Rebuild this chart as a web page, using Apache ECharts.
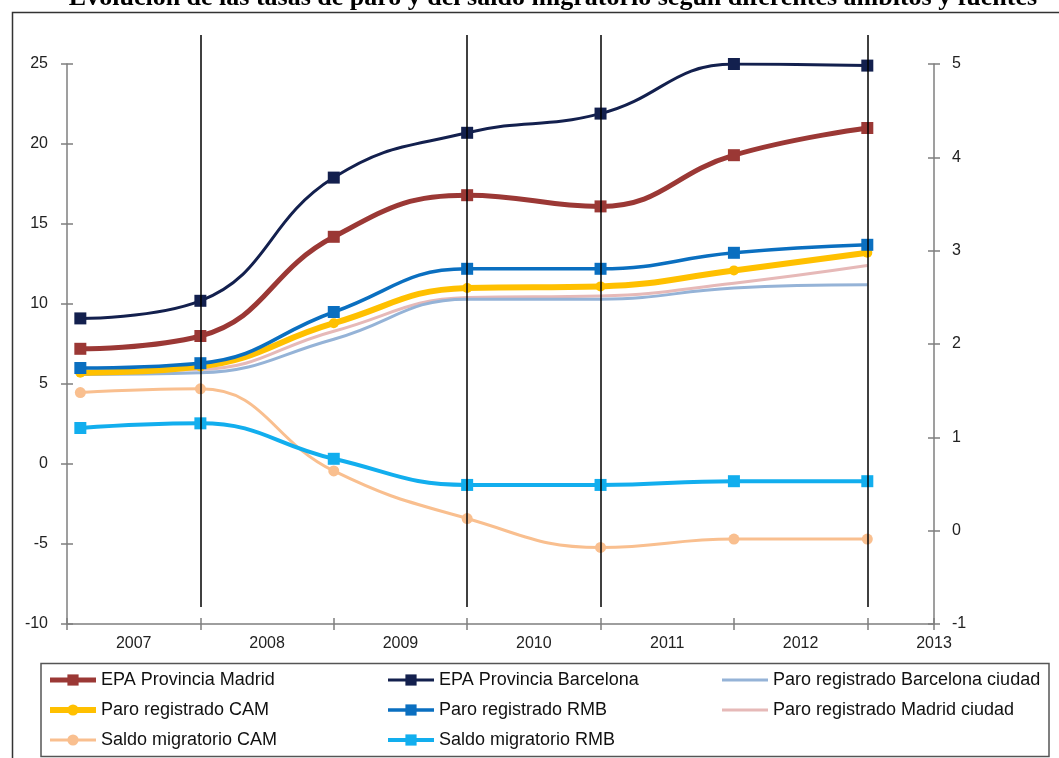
<!DOCTYPE html>
<html>
<head>
<meta charset="utf-8">
<title>Tasas de paro y saldo migratorio</title>
<script src="https://cdn.jsdelivr.net/npm/echarts@6/dist/echarts.min.js"></script>
<style>
  html, body { margin: 0; padding: 0; background: #fff; }
  #chart { width: 1059px; height: 758px; }
</style>
</head>
<body>
<div id="chart"></div>
<script>
// Fecha de cada observación (año decimal)
const periodos = [2007.1, 2008, 2009, 2010, 2011, 2012, 2013];

// Tasas de paro (%), eje izquierdo
const epaMadrid        = [7.2, 8.0, 14.2, 16.8, 16.1, 19.3, 21.0];
const epaBarcelona     = [9.1, 10.2, 17.9, 20.7, 21.9, 25.0, 24.9];
const paroBcnCiudad    = [5.6, 5.7, 7.8, 10.3, 10.3, 11.0, 11.2];
const paroCAM          = [5.7, 6.1, 8.8, 11.0, 11.1, 12.1, 13.2];
const paroRMB          = [6.0, 6.3, 9.5, 12.2, 12.2, 13.2, 13.7];
const paroMadCiudad    = [5.8, 5.9, 8.3, 10.4, 10.5, 11.3, 12.4];

// Saldo migratorio (%), eje derecho
const saldoCAM         = [1.48, 1.52, 0.64, 0.13, -0.18, -0.09, -0.09];
const saldoRMB         = [1.10, 1.15, 0.77, 0.49, 0.49, 0.53, 0.53];

// Años marcados con línea vertical
const hitos = [2008, 2010, 2011, 2013];

const nombres = [
  'EPA Provincia Madrid', 'EPA Provincia Barcelona', 'Paro registrado Barcelona ciudad',
  'Paro registrado CAM', 'Paro registrado RMB', 'Paro registrado Madrid ciudad',
  'Saldo migratorio CAM', 'Saldo migratorio RMB'
];

const pares = vals => periodos.map((x, i) => [x, vals[i]]);

const fuente = 'Liberation Sans, Arial, sans-serif';
const gris = '#7f7f7f';
// Icono de leyenda de sólo línea, para las series sin marcadores
const iconoLinea = 'path://M0 0H46V3H0Z';

function serie(name, vals, color, width, symbol, size, yIdx) {
  return {
    name: name,
    type: 'line',
    xAxisIndex: 0,
    yAxisIndex: yIdx,
    data: pares(vals),
    smooth: 0.45,
    symbol: symbol,
    symbolSize: size,
    showSymbol: symbol !== 'none',
    lineStyle: { color: color, width: width },
    itemStyle: { color: color },
    emphasis: { disabled: true },
    animation: false
  };
}

const chart = echarts.init(document.getElementById('chart'), null, { renderer: 'canvas' });

const ejeX = {
  type: 'value', min: 2007, max: 2013.5, interval: 1, gridIndex: 0, position: 'bottom',
  splitLine: { show: false }
};
const ejeYIzq = { type: 'value', min: -10, max: 25, interval: 5, gridIndex: 0, position: 'left', splitLine: { show: false } };
const ejeYDer = { type: 'value', min: -1, max: 5, interval: 1, gridIndex: 0, position: 'right', splitLine: { show: false } };

const leyendaBase = {
  orient: 'vertical',
  top: 671,
  padding: 0,
  itemWidth: 46,
  itemHeight: 14,
  itemGap: 12,
  selectedMode: false,
  lineStyle: { width: 'inherit' },
  textStyle: { fontFamily: fuente, fontSize: 18, color: '#111', lineHeight: 18 }
};

chart.setOption({
  backgroundColor: '#fff',
  animation: false,
  graphic: [
    {
      type: 'rect', silent: true,
      shape: { x: 12.5, y: 12.5, width: 1100, height: 800 },
      style: { fill: 'none', stroke: '#333', lineWidth: 1.5 }
    },
    {
      type: 'rect', silent: true,
      shape: { x: 41, y: 663.5, width: 1008, height: 93 },
      style: { fill: 'none', stroke: '#555', lineWidth: 1.5 }
    },
    {
      type: 'text', silent: true,
      style: {
        text: 'Evolución de las tasas de paro y del saldo migratorio según diferentes ámbitos y fuentes',
        x: 553, y: 11,
        align: 'center', verticalAlign: 'bottom',
        font: 'bold 26px "Liberation Serif", "Times New Roman", serif',
        fill: '#000'
      }
    }
  ],
  grid: [
    { left: 67, right: 125, top: 64, bottom: 134 },
    { left: 67, right: 125, top: 35, bottom: 151 }
  ],
  xAxis: [
    Object.assign({}, ejeX, {
      axisLine: { onZero: false, lineStyle: { color: gris, width: 1.5 } },
      axisTick: { show: true, inside: false, length: 6, lineStyle: { color: gris, width: 1.5 } },
      axisLabel: { show: false }
    }),
    Object.assign({}, ejeX, {
      axisLine: { show: false, onZero: false },
      axisTick: { show: true, inside: true, length: 6, lineStyle: { color: gris, width: 1.5 } },
      axisLabel: { show: false }
    }),
    Object.assign({}, ejeX, {
      interval: 0.5,
      axisLine: { show: false, onZero: false },
      axisTick: { show: false },
      axisLabel: {
        show: true, margin: 12, showMinLabel: true, showMaxLabel: true,
        fontFamily: fuente, fontSize: 16, color: '#222',
        formatter: v => (Math.abs(v % 1 - 0.5) < 1e-6 ? String(Math.floor(v)) : '')
      }
    }),
    { type: 'value', min: 2007, max: 2013.5, gridIndex: 1, show: false }
  ],
  yAxis: [
    Object.assign({}, ejeYIzq, {
      axisLine: { show: true, onZero: false, lineStyle: { color: gris, width: 1.5 } },
      axisTick: { show: true, inside: false, length: 6, lineStyle: { color: gris, width: 1.5 } },
      axisLabel: { margin: 19, fontFamily: fuente, fontSize: 16, color: '#222' }
    }),
    Object.assign({}, ejeYIzq, {
      axisLine: { show: false, onZero: false },
      axisTick: { show: true, inside: true, length: 6, lineStyle: { color: gris, width: 1.5 } },
      axisLabel: { show: false }
    }),
    Object.assign({}, ejeYDer, {
      axisLine: { show: true, onZero: false, lineStyle: { color: gris, width: 1.5 } },
      axisTick: { show: true, inside: false, length: 6, lineStyle: { color: gris, width: 1.5 } },
      axisLabel: { margin: 18, fontFamily: fuente, fontSize: 16, color: '#222' }
    }),
    Object.assign({}, ejeYDer, {
      axisLine: { show: false, onZero: false },
      axisTick: { show: true, inside: true, length: 6, lineStyle: { color: gris, width: 1.5 } },
      axisLabel: { show: false }
    }),
    { type: 'value', min: 0, max: 1, gridIndex: 1, show: false }
  ],
  legend: [
    Object.assign({}, leyendaBase, { left: 47, data: [nombres[0], nombres[3], nombres[6]] }),
    Object.assign({}, leyendaBase, { left: 386, data: [nombres[1], nombres[4], nombres[7]] }),
    Object.assign({}, leyendaBase, {
      left: 722,
      data: [{ name: nombres[2], icon: iconoLinea }, { name: nombres[5], icon: iconoLinea }]
    })
  ],
  series: [
    serie(nombres[5], paroMadCiudad, '#E6B9B8', 3, 'none', 0, 0),
    serie(nombres[2], paroBcnCiudad, '#95B3D7', 3, 'none', 0, 0),
    serie(nombres[3], paroCAM, '#FFC000', 6, 'circle', 10, 0),
    serie(nombres[4], paroRMB, '#0A6FC0', 3.5, 'rect', 12, 0),
    serie(nombres[0], epaMadrid, '#9B3835', 5, 'rect', 12, 0),
    serie(nombres[1], epaBarcelona, '#13204E', 3, 'rect', 12, 0),
    serie(nombres[6], saldoCAM, '#F9BF8F', 3, 'circle', 11, 2),
    serie(nombres[7], saldoRMB, '#12AEEE', 4, 'rect', 12, 2),
    // Líneas verticales de referencia, dibujadas por encima de las series
    {
      type: 'line', name: 'hitos', xAxisIndex: 3, yAxisIndex: 4,
      data: [], silent: true, animation: false, z: 20,
      markLine: {
        silent: true, symbol: 'none', animation: false, z: 20,
        label: { show: false },
        lineStyle: { color: '#000', width: 1.5, type: 'solid' },
        emphasis: { disabled: true },
        data: hitos.map(h => ({ xAxis: h }))
      }
    }
  ]
});
</script>
</body>
</html>
